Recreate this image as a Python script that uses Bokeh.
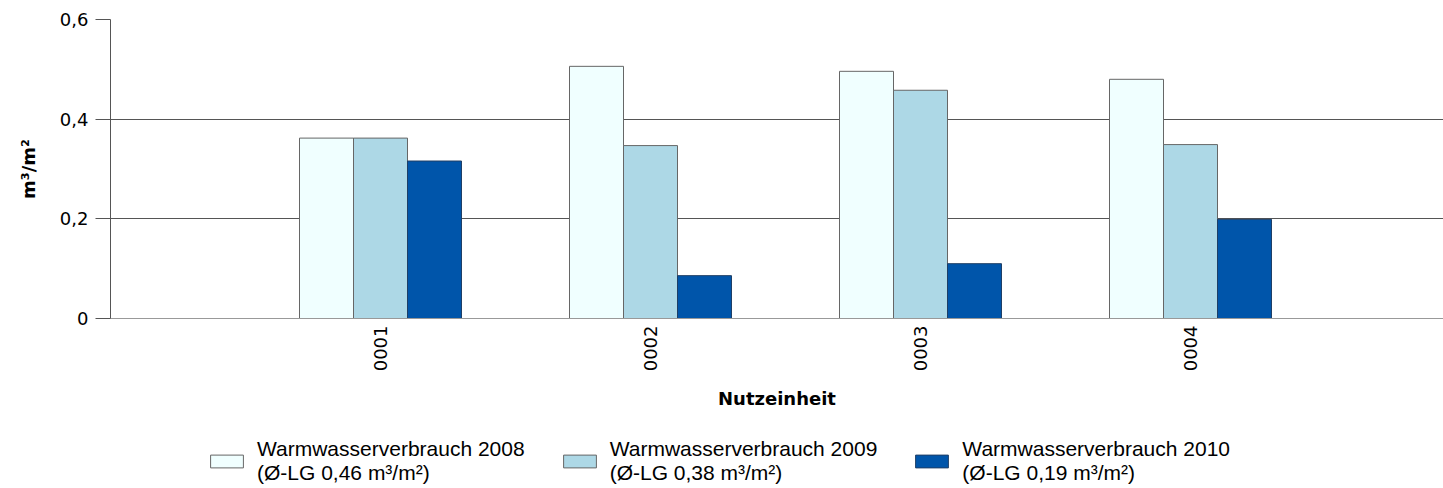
from math import pi
from bokeh.plotting import figure
from bokeh.layouts import column
from bokeh.models import ColumnDataSource, Range1d, FixedTicker, Legend, LegendItem
from bokeh.transform import dodge
from bokeh.embed import file_html
from bokeh.resources import INLINE

# ---- data ----
units = ["0001", "0002", "0003", "0004"]
positions = [1, 2, 3, 4]
v2008 = [0.362, 0.506, 0.496, 0.480]
v2009 = [0.362, 0.347, 0.458, 0.349]
v2010 = [0.316, 0.086, 0.110, 0.199]
series_labels = [
    "Warmwasserverbrauch 2008\n(Ø-LG 0,46 m³/m²)",
    "Warmwasserverbrauch 2009\n(Ø-LG 0,38 m³/m²)",
    "Warmwasserverbrauch 2010\n(Ø-LG 0,19 m³/m²)",
]
y_ticks = [0, 0.2, 0.4, 0.6]
y_tick_labels = ["0", "0,2", "0,4", "0,6"]
x_title = "Nutzeinheit"
y_title = "m³/m²"

colors = ["#F0FFFF", "#ADD8E6", "#0055AA"]
outlines = ["#666666", "#666666", "#1F3F66"]

src = ColumnDataSource(dict(x=positions, a=v2008, b=v2009, c=v2010))

W = 1443
H_MAIN, H_LEG = 436, 52
LEFT = 110
p = figure(width=W, height=H_MAIN, output_backend="svg", toolbar_location=None,
           x_range=Range1d(0, (W - LEFT) / 270), y_range=Range1d(0, 0.6),
           min_border_left=LEFT, min_border_right=0, min_border_top=19,
           min_border_bottom=H_MAIN - 318)
p.background_fill_color = "white"
p.border_fill_color = "white"
p.outline_line_color = None

for col, off, fc, lc in zip(["a", "b", "c"], [-0.2, 0.0, 0.2], colors, outlines):
    p.vbar(x=dodge("x", off), top=col, width=0.2, source=src,
           fill_color=fc, line_color=lc, line_width=1)

# axes
p.yaxis.ticker = FixedTicker(ticks=y_ticks)
p.yaxis.major_label_overrides = {t: l for t, l in zip(y_ticks, y_tick_labels)}
p.yaxis.major_tick_in = 0
p.yaxis.major_tick_out = 15
p.yaxis.minor_tick_line_color = None
p.yaxis.major_tick_line_color = "#555555"
p.yaxis.axis_line_color = "#555555"
p.yaxis.major_label_standoff = 7
p.yaxis.major_label_text_font = "DejaVu Sans"
p.yaxis.major_label_text_font_size = "18px"
p.yaxis.major_label_text_color = "#000000"
p.yaxis.axis_label = y_title
p.yaxis.axis_label_text_font = "DejaVu Sans"
p.yaxis.axis_label_text_font_style = "bold"
p.yaxis.axis_label_text_font_size = "18px"
p.yaxis.axis_label_text_color = "#000000"
p.yaxis.axis_label_standoff = 18

p.xaxis.ticker = FixedTicker(ticks=positions)
p.xaxis.major_label_overrides = {x: u for x, u in zip(positions, units)}
p.xaxis.major_label_orientation = pi / 2
p.xaxis.major_tick_in = 0
p.xaxis.major_tick_out = 0
p.xaxis.minor_tick_line_color = None
p.xaxis.axis_line_color = "#999999"
p.xaxis.major_label_standoff = 7
p.xaxis.major_label_text_font = "DejaVu Sans"
p.xaxis.major_label_text_font_size = "18px"
p.xaxis.major_label_text_color = "#000000"
p.xaxis.axis_label = x_title
p.xaxis.axis_label_text_font = "DejaVu Sans"
p.xaxis.axis_label_text_font_style = "bold"
p.xaxis.axis_label_text_font_size = "18px"
p.xaxis.axis_label_text_color = "#000000"
p.xaxis.axis_label_standoff = 14

p.xgrid.grid_line_color = None
p.ygrid.grid_line_color = "#555555"
p.ygrid.ticker = FixedTicker(ticks=[0.2, 0.4, 0.6])

# ---- legend figure (swatches only, no visible data) ----
lf = figure(width=W, height=H_LEG, output_backend="svg", toolbar_location=None,
            x_range=Range1d(0, 1), y_range=Range1d(0, 1),
            min_border_left=0, min_border_right=0, min_border_top=0, min_border_bottom=0)
lf.axis.visible = False
lf.grid.visible = False
lf.outline_line_color = None
lf.background_fill_color = "white"
lf.border_fill_color = "white"
dummy = ColumnDataSource(dict(x=[-10], top=[0]))
lrs = []
for fc, lc in zip(colors, outlines):
    lrs.append(lf.vbar(x="x", top="top", width=0.1, source=dummy,
                       fill_color=fc, line_color=lc, line_width=1))

legend = Legend(items=[LegendItem(label=l, renderers=[r]) for l, r in zip(series_labels, lrs)],
                orientation="horizontal", location=(96, 3))
legend.glyph_width = 41
legend.glyph_height = 16
legend.label_standoff = 10
legend.spacing = 34
legend.padding = 0
legend.margin = 0
legend.border_line_alpha = 0
legend.background_fill_alpha = 0
legend.label_text_font = "Liberation Sans"
legend.label_text_font_size = "21px"
legend.label_text_line_height = 1.05
legend.label_text_color = "#000000"
lf.add_layout(legend, "center")

open("out.html", "w").write(file_html(column(p, lf, spacing=0), INLINE))
